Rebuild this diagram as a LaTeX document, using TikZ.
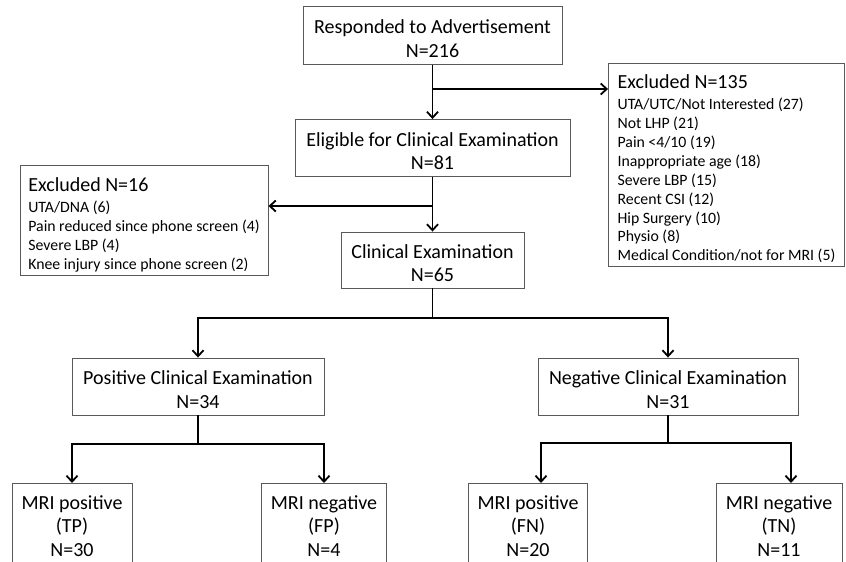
\documentclass[tikz,border=0pt]{standalone}
\usepackage{fontspec}
\setmainfont{Carlito}
\usetikzlibrary{arrows.meta}
\newcommand\bigfont{\fontsize{20}{23.5}\selectfont}
\newcommand\listfont{\fontsize{15.8}{18.9}\selectfont}
\newcommand\listtitle[1]{\bigfont\rule{0pt}{23pt}#1}

\begin{document}
\begin{tikzpicture}[
    x=1pt, y=-1pt,
    font=\bigfont,
    >={Straight Barb[length=6pt,width=11pt]},
    box/.style={draw=black!65, line width=0.9pt, align=center, inner sep=3pt},
    flowbox/.style={box, text height=44pt},
    listbox/.style={box, align=left, inner xsep=8pt, font=\listfont},
    mribox/.style={box, anchor=north, inner ysep=12pt, text depth=30pt},
    arrow/.style={->, line width=1.8pt},
    link/.style={line width=1.8pt}
  ]
    \useasboundingbox (0,0) rectangle (846,562);

    \node[flowbox, minimum width=259pt, minimum height=58pt] (respond) at (432.5,35.5) {Responded to Advertisement\\N=216};
    \node[flowbox, minimum width=275pt, minimum height=57pt] (eligible) at (432.5,148) {Eligible for Clinical Examination\\N=81};
    \node[listbox, minimum width=236pt, minimum height=203pt] (excl135) at (726.5,164.5) {\listtitle{Excluded N=135}\\[1.8pt]
      UTA/UTC/Not Interested (27)\\ Not LHP (21)\\ Pain <4/10 (19)\\ Inappropriate age (18)\\
      Severe LBP (15)\\ Recent CSI (12)\\ Hip Surgery (10)\\ Physio (8)\\ Medical Condition/not for MRI (5)};
    \node[listbox, minimum width=248pt, minimum height=109pt] (excl16) at (144,220.5) {\listtitle{Excluded N=16}\\[1.8pt]
      UTA/DNA (6)\\ Pain reduced since phone screen (4)\\ Severe LBP (4)\\ Knee injury since phone screen (2)};
    \node[flowbox, minimum width=183pt, minimum height=56pt] (clinical) at (432.5,260) {Clinical Examination\\N=65};
    \node[flowbox, minimum width=252pt, minimum height=57pt] (positive) at (198,386.5) {Positive Clinical Examination\\N=34};
    \node[flowbox, minimum width=260pt, minimum height=57pt] (negative) at (668,386.5) {Negative Clinical Examination\\N=31};

    \node[mribox, minimum width=120pt] (tp) at (72,483) {MRI positive\\(TP)\\N=30};
    \node[mribox, minimum width=125pt] (fp) at (324,483) {MRI negative\\(FP)\\N=4};
    \node[mribox, minimum width=119pt] (fn) at (528,483) {MRI positive\\(FN)\\N=20};
    \node[mribox, minimum width=126pt] (tn) at (779,483) {MRI negative\\(TN)\\N=11};

    % branch points
    \coordinate (split1) at (432.5,89);
    \coordinate (split2) at (432.5,206);
    \coordinate (split3) at (432.5,318);
    \coordinate (split4) at (198,444);
    \coordinate (split5) at (668,443);

    \draw[arrow] (respond.south) -- (eligible.north);
    \draw[arrow] (split1) -- (split1 -| excl135.west);
    \draw[arrow] (eligible.south) -- (clinical.north);
    \draw[arrow] (split2) -- (split2 -| excl16.east);

    \draw[link] (clinical.south) -- (split3);
    \draw[arrow] (split3) -| (positive.north);
    \draw[arrow] (split3) -| (negative.north);

    \draw[link] (positive.south) -- (split4);
    \draw[arrow] (split4) -| (tp.north);
    \draw[arrow] (split4) -| (fp.north);
    \draw[link] (negative.south) -- (split5);
    \draw[arrow] (split5) -| ([xshift=13pt]fn.north);
    \draw[arrow] (split5) -| ([xshift=12pt]tn.north);
\end{tikzpicture}
\end{document}
